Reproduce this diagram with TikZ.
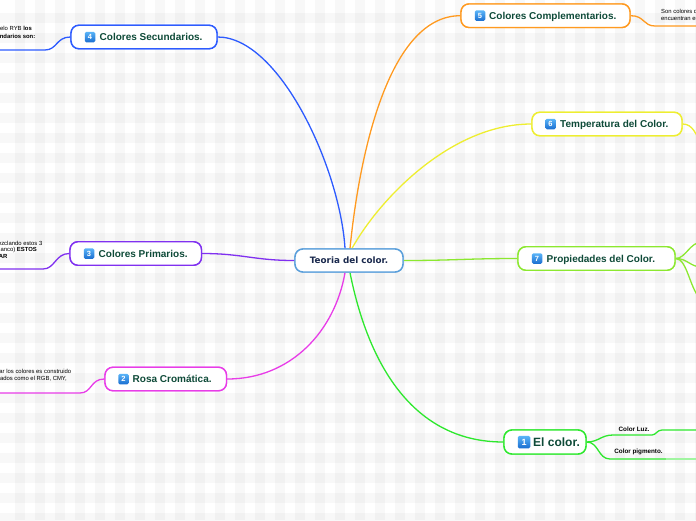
\documentclass[tikz,border=0pt]{standalone}
\usepackage{fontspec}
\setmainfont{Liberation Sans}
\newfontfamily\cfont{DejaVu Sans}
\usetikzlibrary{calc}
\definecolor{blueC}{HTML}{2D5BFF}
\definecolor{purpleC}{HTML}{8030F0}
\definecolor{magentaC}{HTML}{E83CE8}
\definecolor{orangeC}{HTML}{FF9A20}
\definecolor{yellowC}{HTML}{EEEE30}
\definecolor{lgreenC}{HTML}{8CE830}
\definecolor{greenC}{HTML}{2EE82E}
\definecolor{centerC}{HTML}{5A9FDB}
\definecolor{textC}{HTML}{0E4A38}
\definecolor{navyC}{HTML}{1B2A4E}
\definecolor{iconT}{HTML}{5AB4F8}
\definecolor{iconB}{HTML}{1A6ED0}
\begin{document}
\begin{tikzpicture}[x=1pt,y=-1pt,
  mainbox/.style={draw, fill=white, rounded corners=8pt, line width=1.4pt, minimum height=23.5pt, inner sep=0pt},
  numicon/.style={rounded corners=1.5pt, minimum size=10.5pt, inner sep=0pt, top color=iconT, bottom color=iconB, draw=none, text=white, font=\bfseries\fontsize{7.5}{7.5}\selectfont},
  maintext/.style={anchor=base west, inner sep=0pt, text=textC, font=\bfseries\fontsize{10}{12}\selectfont},
  smalltext/.style={inner sep=0pt, font=\fontsize{5.9}{7}\selectfont, text=black},
  conn/.style={line width=1.3pt}]
\useasboundingbox (0,0) rectangle (696,520);
\fill[white] (0,0) rectangle (696,520);
\foreach \x in {15,35,...,695} \fill[black,fill opacity=0.028] (\x,0) rectangle ++(10,520);
\foreach \y in {13,33,...,513} \fill[black,fill opacity=0.028] (0,\y) rectangle ++(696,10);

% boxes (positions)
\node[mainbox, draw=centerC, minimum width=108pt, minimum height=23pt, text=navyC, font=\cfont\bfseries\fontsize{8.8}{10}\selectfont] (c) at (349,260.5) {Teoria del color.};
\node[mainbox, draw=blueC, minimum width=146pt] (n4) at (144,37) {};
\node[mainbox, draw=purpleC, minimum width=131.5pt] (n3) at (135.75,253.5) {};
\node[mainbox, draw=magentaC, minimum width=121.5pt] (n2) at (165.75,379) {};
\node[mainbox, draw=orangeC, minimum width=169pt] (n5) at (545.5,15.7) {};
\node[mainbox, draw=yellowC, minimum width=150pt] (n6) at (607,124) {};
\node[mainbox, draw=lgreenC, minimum width=157pt] (n7) at (596.5,258.5) {};
\node[mainbox, draw=greenC, minimum width=82pt, minimum height=24pt] (n1) at (545,442) {};

% connectors
\begin{scope}[conn]
\draw[blueC] (n4.east) .. controls +(62,0) and +(-5,-80) .. ($(c.north)+(-4,0)$);
\draw[orangeC] ($(c.north)+(1,0)$) .. controls +(10,-100) and +(-70,0) .. (n5.west);
\draw[yellowC] ($(c.north)+(3,0)$) .. controls +(28,-50) and +(-80,0) .. (n6.west);
\draw[purpleC] (c.west) .. controls +(-40,0) and +(40,0) .. (n3.east);
\draw[lgreenC] (c.east) .. controls +(50,0) and +(-50,0) .. (n7.west);
\draw[magentaC] ($(c.south)+(-4,0)$) .. controls +(-10,58) and +(64,0) .. (n2.east);
\draw[greenC] ($(c.south)+(1,0)$) .. controls +(20,100) and +(-85,0) .. (n1.west);
% sub branches
\coordinate (u4) at (45,50); \coordinate (u4e) at (-5,50);
\draw[blueC] (n4.west) .. controls +(-14,0) and +(12,0) .. (u4) -- (u4e);
\coordinate (u3) at (43,269); \coordinate (u3e) at (-5,269);
\draw[purpleC] (n3.west) .. controls +(-14,0) and +(12,0) .. (u3) -- (u3e);
\coordinate (u2) at (80,393); \coordinate (u2e) at (-5,393);
\draw[magentaC] (n2.west) .. controls +(-14,0) and +(12,0) .. (u2) -- (u2e);
\coordinate (u5) at (655,26); \coordinate (u5e) at (702,26);
\draw[orangeC] (n5.east) .. controls +(14,0) and +(-12,0) .. (u5) -- (u5e);
\coordinate (u6) at (702,146);
\draw[yellowC] (n6.east) .. controls +(10,0) and +(-6,-12) .. (u6);
\coordinate (u7a) at (702,242); \coordinate (u7b) at (702,267); \coordinate (u7c) at (702,300);
\draw[lgreenC] (n7.east) .. controls +(10,0) and +(-12,0) .. (u7a);
\draw[lgreenC] (n7.east) .. controls +(12,0) and +(-12,0) .. (u7b);
\draw[lgreenC] (n7.east) .. controls +(12,0) and +(-12,-8) .. (u7c);
\coordinate (l1) at (613,435); \coordinate (l1e) at (652,435);
\coordinate (l1c) at (662,430); \coordinate (l1f) at (702,430);
\draw[greenC] (n1.east) .. controls +(12,0) and +(-12,0) .. (l1) -- (l1e) .. controls +(4,0) and +(-5,0) .. (l1c) -- (l1f);
\coordinate (p1) at (610,459); \coordinate (p1e) at (666,459); \coordinate (p1f) at (702,459);
\draw[greenC] (n1.east) .. controls +(12,0) and +(-12,0) .. (p1) -- (p1e);
\draw[greenC!45] (p1e) -- (p1f);
\end{scope}

% redraw boxes on top of connector ends
\node[mainbox, draw=centerC, minimum width=108pt, minimum height=23pt, text=navyC, font=\cfont\bfseries\fontsize{8.8}{10}\selectfont] (c2) at (c) {Teoria del color.};
\node[mainbox, draw=blueC, minimum width=146pt] (m4) at (n4) {};
\node[mainbox, draw=purpleC, minimum width=131.5pt] (m3) at (n3) {};
\node[mainbox, draw=magentaC, minimum width=121.5pt] (m2) at (n2) {};
\node[mainbox, draw=orangeC, minimum width=169pt] (m5) at (n5) {};
\node[mainbox, draw=yellowC, minimum width=150pt] (m6) at (n6) {};
\node[mainbox, draw=lgreenC, minimum width=157pt] (m7) at (n7) {};
\node[mainbox, draw=greenC, minimum width=82pt, minimum height=24pt] (m1) at (n1) {};

% icons and labels
\node[numicon] (i4) at (90,37) {4};
\node[maintext] (t4) at (99.5,40.6) {Colores Secundarios.};
\node[numicon] (i3) at (89,253.5) {3};
\node[maintext] (t3) at (98.5,257.1) {Colores Primarios.};
\node[numicon] (i2) at (123.5,379) {2};
\node[maintext] (t2) at (132.5,382.6) {Rosa Cromática.};
\node[numicon] (i5) at (480,15.7) {5};
\node[maintext] (t5) at (489,19.3) {Colores Complementarios.};
\node[numicon] (i6) at (550.5,124) {6};
\node[maintext] (t6) at (560,127.6) {Temperatura del Color.};
\node[numicon] (i7) at (537,258.5) {7};
\node[maintext] (t7) at (546.5,262.1) {Propiedades del Color.};
\node[numicon, minimum size=12.5pt, font=\bfseries\fontsize{9}{9}\selectfont] (i1) at (524,442) {1};
\node[maintext, font=\bfseries\fontsize{12}{14}\selectfont] (t1) at (533,446.3) {El color.};

% small texts
\node[smalltext, anchor=east] (s4a) at (32,29) {Según el modelo RYB \textbf{los}};
\node[smalltext, anchor=east] (s4b) at (35.5,36) {\textbf{colores secundarios son:}};
\node[smalltext, anchor=east] (s3a) at (42.5,243) {Se obtienen mezclando estos 3};
\node[smalltext, anchor=east] (s3b) at (37,249.5) {(negro y blanco) \textbf{ESTOS}};
\node[smalltext, anchor=east] (s3c) at (7.5,256) {\textbf{NO SE PUEDEN CREAR}};
\node[smalltext, anchor=east] (s2a) at (71.5,372) {El círculo cromático para ordenar los colores es construido};
\node[smalltext, anchor=east] (s2b) at (67,378.5) {a partir de modelos de color basados como el RGB, CMY,};
\node[smalltext, anchor=west] (s5a) at (661,12) {Son colores que se};
\node[smalltext, anchor=west] (s5b) at (661,19) {encuentran en el lado opuesto};
\node[smalltext, font=\bfseries\fontsize{6.3}{7}\selectfont] (cl) at (634,429) {Color Luz.};
\node[smalltext, font=\bfseries\fontsize{6.3}{7}\selectfont] (cp) at (638.5,452) {Color pigmento.};
\end{tikzpicture}
\end{document}
